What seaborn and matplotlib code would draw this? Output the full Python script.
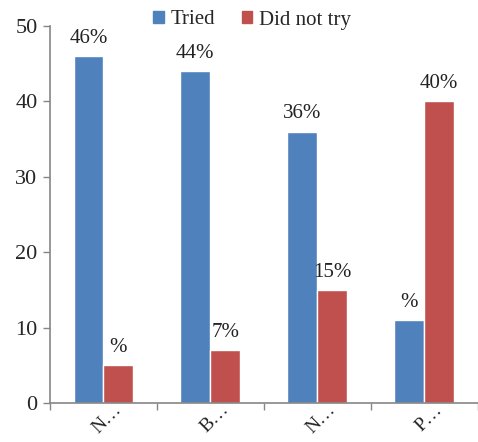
import matplotlib
matplotlib.use("Agg")
import matplotlib.pyplot as plt
import matplotlib.transforms as mtransforms
import seaborn as sns
import pandas as pd

categories = ["N…", "B…", "N…", "P…"]
series = ["Tried", "Did not try"]
tried = [46, 44, 36, 11]
did_not_try = [5, 7, 15, 40]
tried_labels = ["46%", "44%", "36%", "%"]
did_not_labels = ["%", "7%", "15%", "40%"]
colors = ["#4F81BD", "#C0504D"]

sns.set_style("white")
plt.rcParams["font.family"] = ["Liberation Serif", "DejaVu Serif"]

rows = []
for i, c in enumerate(categories):
    rows.append({"pos": i, "series": series[0], "value": tried[i]})
    rows.append({"pos": i, "series": series[1], "value": did_not_try[i]})
df = pd.DataFrame(rows)

fig = plt.figure(figsize=(4.78, 4.42), dpi=100)
ax = fig.add_axes([50 / 478, 1 - 403 / 442, 1 - 50 / 478 - 0.001, (403 - 26) / 442])

sns.barplot(data=df, x="pos", y="value", hue="series", hue_order=series,
            palette=colors, width=0.56, saturation=1, ax=ax, legend=True)

for cont, labs in zip(ax.containers, [tried_labels, did_not_labels]):
    ax.bar_label(cont, labels=labs, padding=6, fontsize=15, color="#222222")

ax.set_ylim(0, 50)
ax.set_xlim(-0.5, 3.5)
ax.set_yticks([0, 10, 20, 30, 40, 50])
ax.set_xticks(range(len(categories)))
ax.set_xticklabels(categories, rotation=45, ha="right", va="top", rotation_mode="anchor")
ax.set_xticks([-0.5, 0.5, 1.5, 2.5, 3.5], minor=True)
ax.tick_params(axis="x", which="major", length=0, labelsize=14, pad=0)
ax.tick_params(axis="x", which="minor", length=5, color="#868686", width=1, direction="out", bottom=True)
ax.tick_params(axis="y", length=5, color="#868686", width=1, direction="out", left=True, labelsize=16, pad=4)
offset = mtransforms.ScaledTranslation(10 / 100, 2 / 100, fig.dpi_scale_trans)
for lab in ax.get_xticklabels():
    lab.set_transform(lab.get_transform() + offset)
ax.set_xlabel("")
ax.set_ylabel("")
for s in ["top", "right"]:
    ax.spines[s].set_visible(False)
for s in ["left", "bottom"]:
    ax.spines[s].set_color("#868686")
    ax.spines[s].set_linewidth(1.2)

leg = ax.get_legend()
leg.remove()
handles = [plt.Rectangle((0, 0), 1, 1, color=c) for c in colors]
fig.legend(handles, series, loc="center", bbox_to_anchor=(252 / 478, 1 - 20 / 442),
           ncol=2, frameon=False, fontsize=15, handlelength=0.5, handleheight=0.5,
           handletextpad=0.3, columnspacing=1.3, borderpad=0)

fig.savefig("out.png", dpi=100)
